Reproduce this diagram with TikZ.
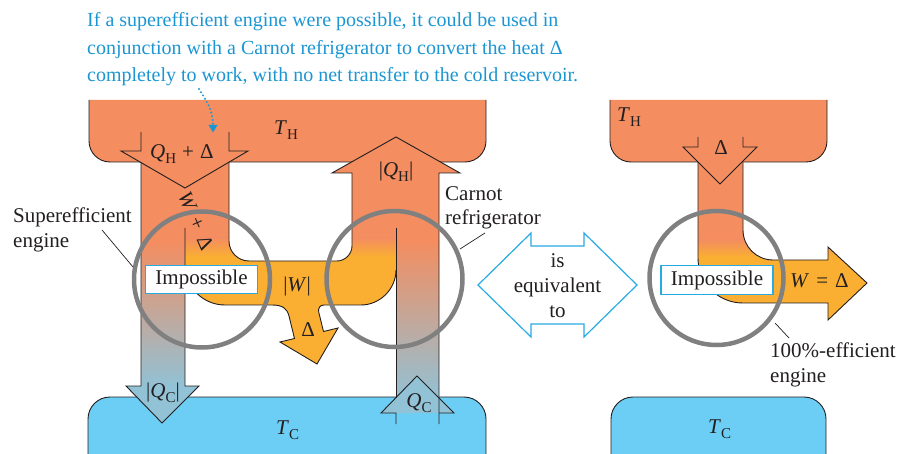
\documentclass[tikz,border=0pt]{standalone}
\usepackage{fontspec}
\setmainfont{Liberation Serif}
\usetikzlibrary{arrows.meta}
\definecolor{hot}{RGB}{244,141,96}
\definecolor{wcol}{RGB}{250,175,50}
\definecolor{cold}{RGB}{108,206,244}
\definecolor{coldend}{RGB}{145,194,214}
\definecolor{circ}{RGB}{128,128,128}
\definecolor{lblue}{RGB}{41,170,226}
\definecolor{txtblue}{RGB}{28,150,210}
\definecolor{ink}{RGB}{35,31,32}
\newcommand\sbs[1]{\raisebox{-5pt}{\fontsize{15}{15}\selectfont #1}}
\begin{document}
\begin{tikzpicture}[x=1pt,y=-1pt,line join=miter,
  edge/.style={draw=ink, line width=0.9pt},
  lbl/.style={text=ink, font=\fontsize{21}{25}\selectfont, inner sep=0pt},
  ring/.style={draw=circ, line width=4.5pt},
  impbox/.style={draw=lblue, fill=white, line width=1.4pt, inner sep=0pt, minimum width=112pt, minimum height=28.5pt, text=ink, font=\fontsize{21}{25}\selectfont},
  lead/.style={draw=ink, line width=0.7pt},
  note/.style={anchor=base west, text=txtblue, font=\fontsize{20}{27}\selectfont, inner sep=0pt}]
\useasboundingbox (0,0) rectangle (897,454);

% reservoirs
\filldraw[fill=hot, edge, rounded corners=21] (89,100) -- (89,162) -- (486,162) -- (486,100);
\filldraw[fill=hot, edge, rounded corners=21] (610,100) -- (610,162) -- (827,162) -- (827,100);
\filldraw[fill=cold, edge, rounded corners=22] (88,454) -- (88,397) -- (486,397) -- (486,454);
\filldraw[fill=cold, edge, rounded corners=22] (611,454) -- (611,397) -- (826,397) -- (826,454);

% main flow (superefficient engine + work + refrigerator)
\begin{scope}
\clip (141,150) -- (229,150) -- (229,241) .. controls (229,252) and (238,261) .. (249,261) -- (337,261) .. controls (345,261) and (352,254) .. (352,246) -- (352,173) -- (439,173) -- (439,228) -- (396,228) -- (396,270) .. controls (396,289) and (380,305) .. (361,305) -- (324,305) .. controls (320,305) and (318,308) .. (318.7,312) -- (323.5,331.5) -- (338,328) -- (317,364) -- (280,342) -- (294.5,338.5) -- (289,316) .. controls (287,308) and (282,305) .. (272,305) -- (225,305) .. controls (203,305) and (185,287) .. (185,265) -- (185,228) -- (141,228) -- cycle;
\fill[hot] (130,140) rectangle (450,239);
\shade[top color=hot, bottom color=wcol] (130,238) rectangle (450,257);
\fill[wcol] (130,256) rectangle (450,370);
\end{scope}
% cold shafts
\fill[hot] (141,227) rectangle (185,242);
\shade[top color=hot, bottom color=coldend] (141,241) rectangle (185,387);
\fill[hot] (396,227) rectangle (439,242);
\shade[top color=hot, bottom color=coldend] (396,241) rectangle (439,400);
% arrowhead fills
\fill[hot] (121,151) -- (248,151) -- (185,188) -- cycle;
\fill[hot] (332,173) -- (396,137) -- (460,173) -- cycle;
\fill[coldend] (126,386) -- (199,386) -- (162,423) -- cycle;
\fill[coldend] (381,413) -- (454,413) -- (417,376) -- cycle;
% outlines
\draw[edge] (141,132) -- (141,151) -- (121,151) -- (185,188) -- (248,151) -- (229,151) -- (229,132);
\draw[edge] (229,162) -- (229,241) .. controls (229,252) and (238,261) .. (249,261) -- (337,261) .. controls (345,261) and (352,254) .. (352,246) -- (352,173) -- (332,173) -- (396,137) -- (460,173) -- (439,173) -- (439,424);
\draw[edge] (396,228) -- (396,398);
\draw[edge] (396,270) .. controls (396,289) and (380,305) .. (361,305) -- (324,305) .. controls (320,305) and (318,308) .. (318.7,312) -- (323.5,331.5) -- (338,328) -- (317,364) -- (280,342) -- (294.5,338.5) -- (289,316) .. controls (287,308) and (282,305) .. (272,305) -- (225,305) .. controls (203,305) and (185,287) .. (185,265);
\draw[edge] (185,228) -- (185,386) -- (199,386) -- (162,423) -- (126,386) -- (141,386) -- (141,162);
\draw[edge] (396,424) -- (396,413) -- (381,413) -- (417,376) -- (454,413) -- (439,413);

% 100%-efficient engine
\begin{scope}
\clip (698,150) -- (743,150) -- (743,230) .. controls (743,246.6) and (756.4,260) .. (773,260) -- (828,260) -- (828,247) -- (867,283) -- (828,320) -- (828,303) -- (743,303) .. controls (718,303) and (698,283) .. (698,258) -- cycle;
\fill[hot] (690,140) rectangle (870,241);
\shade[top color=hot, bottom color=wcol] (690,240) rectangle (870,257);
\fill[wcol] (690,256) rectangle (870,330);
\end{scope}
\fill[hot] (683,147) -- (757,147) -- (720,184) -- cycle;
\draw[edge] (698,137) -- (698,147) -- (683,147) -- (720,184) -- (757,147) -- (743,147) -- (743,137);
\draw[edge] (698,162) -- (698,258) .. controls (698,283) and (718,303) .. (743,303) -- (828,303) -- (828,320) -- (867,283) -- (828,247) -- (828,260) -- (773,260) .. controls (756.4,260) and (743,246.6) .. (743,230) -- (743,162);

% labels in flows
\node[lbl, anchor=base west] (thl) at (274,135) {\textit{T}\sbs{H}};
\node[lbl, anchor=base west] (thr) at (617,122) {\textit{T}\sbs{H}};
\node[lbl, anchor=base west] (tcl) at (276,434) {\textit{T}\sbs{C}};
\node[lbl, anchor=base west] (tcr) at (708,433) {\textit{T}\sbs{C}};
\node[lbl, anchor=base west] (qhd) at (150,159) {\textit{Q}\sbs{H}\hspace{6pt}+\hspace{6pt}Δ};
\node[lbl, anchor=base] (qh) at (396,177) {|\textit{Q}\sbs{H}|};
\node[lbl, anchor=base] (wl) at (297,292) {|\textit{W}|};
\node[lbl, anchor=base] (dl) at (308,337) {Δ};
\node[lbl, anchor=base] (qcl) at (163,397) {|\textit{Q}\sbs{C}|};
\node[lbl, anchor=base] (qcr) at (419,407) {\textit{Q}\sbs{C}};
\node[lbl, anchor=base] (dr) at (721,155) {Δ};
\node[lbl, anchor=base west] (wd) at (790,288) {\textit{W}\hspace{7pt}=\hspace{7pt}Δ};
\node[lbl, rotate=-66.5] (wpd) at (196,221) {\textit{W}\hspace{8pt}+\hspace{8pt}Δ};

% circles and boxes
\draw[ring] (202,279.5) circle[radius=68];
\draw[ring] (394.5,279) circle[radius=68];
\draw[ring] (716.5,278) circle[radius=67];
\node[impbox] (imp1) at (201.5,279.5) {Impossible};
\node[impbox] (imp2) at (717,280) {Impossible};

% side labels
\node[lbl, anchor=base west] (se1) at (13,223) {Superefficient};
\node[lbl, anchor=base west] (se2) at (13,248) {engine};
\node[lbl, anchor=base west] (cr1) at (445,201) {Carnot};
\node[lbl, anchor=base west] (cr2) at (445,225) {refrigerator};
\node[lbl, anchor=base west] (ef1) at (770,357) {100\%-efficient};
\node[lbl, anchor=base west] (ef2) at (770,382) {engine};
\coordinate (l1a) at (102,230); \coordinate (l1b) at (133,267);
\coordinate (l2a) at (485,233); \coordinate (l2b) at (460,249);
\coordinate (l3a) at (775,323); \coordinate (l3b) at (789,338);
\draw[lead] (l1a) -- (l1b);
\draw[lead] (l2a) -- (l2b);
\draw[lead] (l3a) -- (l3b);

% equivalence arrow
\draw[lblue, fill=white, line width=1.2pt] (478,285) -- (531,233) -- (531,246) -- (584,246) -- (584,233) -- (637,285) -- (584,337) -- (584,324) -- (531,324) -- (531,337) -- cycle;
\node[lbl, align=center] (eq) at (557.5,286) {is\\equivalent\\to};

% note
\node[note] (n1) at (87,27) {If a superefficient engine were possible, it could be used in};
\node[note] (n2) at (87,54.5) {conjunction with a Carnot refrigerator to convert the heat Δ};
\node[note] (n3) at (87,82) {completely to work, with no net transfer to the cold reservoir.};
\coordinate (da) at (199,89);
\coordinate (db) at (213,125);
\draw[txtblue, line width=2.2pt, dash pattern=on 0pt off 3.8pt, line cap=round] (da) .. controls (206,100) and (213,110) .. (db);
\fill[txtblue] (208.5,125) -- (217.5,125) -- (213,132.5) -- cycle;
\end{tikzpicture}
\end{document}
